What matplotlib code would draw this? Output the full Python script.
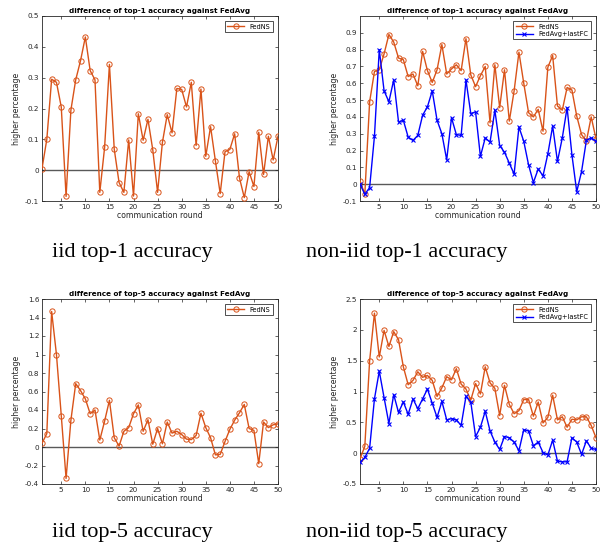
import matplotlib
matplotlib.use('Agg')
import matplotlib.pyplot as plt
import numpy as np

rounds = np.arange(1, 51)

# iid top-1
iid_top1_fedns = [0.005, 0.10, 0.295, 0.285, 0.205, -0.085, 0.195, 0.293, 0.355, 0.432,
                  0.323, 0.293, -0.072, 0.074, 0.343, 0.068, -0.04, -0.072, 0.098, -0.084,
                  0.183, 0.097, 0.165, 0.066, -0.072, 0.090, 0.180, 0.121, 0.265, 0.262,
                  0.205, 0.285, 0.080, 0.263, 0.045, 0.141, 0.030, -0.076, 0.060, 0.067,
                  0.118, -0.025, -0.089, -0.005, -0.053, 0.123, -0.014, 0.110, 0.033, 0.110]

# non-iid top-1
noniid_top1_fedns = [0.02, -0.06, 0.49, 0.67, 0.68, 0.775, 0.89, 0.845, 0.75, 0.74,
                     0.64, 0.655, 0.585, 0.79, 0.675, 0.605, 0.68, 0.83, 0.655, 0.685,
                     0.71, 0.675, 0.865, 0.65, 0.58, 0.645, 0.70, 0.365, 0.71, 0.455,
                     0.68, 0.375, 0.555, 0.785, 0.60, 0.425, 0.40, 0.445, 0.315, 0.695,
                     0.765, 0.465, 0.44, 0.575, 0.56, 0.405, 0.295, 0.255, 0.40, 0.27]
noniid_top1_lastfc = [0.0, -0.06, -0.02, 0.285, 0.80, 0.555, 0.49, 0.62, 0.37, 0.38,
                      0.28, 0.26, 0.29, 0.41, 0.46, 0.555, 0.38, 0.30, 0.145, 0.395,
                      0.295, 0.29, 0.62, 0.42, 0.43, 0.165, 0.275, 0.25, 0.44, 0.23,
                      0.19, 0.125, 0.06, 0.34, 0.255, 0.115, 0.01, 0.09, 0.05, 0.18,
                      0.345, 0.135, 0.275, 0.455, 0.175, -0.045, 0.075, 0.26, 0.275, 0.255]

# iid top-5
iid_top5_fedns = [0.04, 0.145, 1.465, 1.0, 0.34, -0.34, 0.29, 0.685, 0.61, 0.52,
                  0.36, 0.40, 0.075, 0.28, 0.505, 0.10, 0.01, 0.17, 0.21, 0.36,
                  0.455, 0.17, 0.295, 0.03, 0.20, 0.035, 0.27, 0.15, 0.17, 0.135,
                  0.085, 0.08, 0.125, 0.365, 0.21, 0.10, -0.085, -0.08, 0.06, 0.19,
                  0.29, 0.37, 0.46, 0.20, 0.18, -0.18, 0.27, 0.21, 0.24, 0.25]

# non-iid top-5
noniid_top5_fedns = [-0.09, 0.11, 1.50, 2.27, 1.56, 1.99, 1.73, 1.97, 1.84, 1.40,
                     1.11, 1.18, 1.32, 1.23, 1.26, 1.18, 0.92, 1.06, 1.24, 1.19,
                     1.37, 1.12, 1.04, 0.86, 1.13, 0.96, 1.40, 1.14, 1.05, 0.61,
                     1.10, 0.79, 0.64, 0.69, 0.87, 0.87, 0.60, 0.83, 0.49, 0.58,
                     0.94, 0.54, 0.59, 0.42, 0.55, 0.54, 0.59, 0.59, 0.45, 0.25]
noniid_top5_lastfc = [-0.15, -0.07, 0.08, 0.88, 1.33, 0.90, 0.48, 0.95, 0.66, 0.83,
                      0.63, 0.88, 0.72, 0.88, 1.04, 0.81, 0.58, 0.84, 0.54, 0.56,
                      0.54, 0.45, 0.92, 0.83, 0.27, 0.42, 0.68, 0.36, 0.18, 0.06,
                      0.27, 0.25, 0.18, 0.04, 0.38, 0.36, 0.12, 0.18, 0.01, -0.03,
                      0.21, -0.13, -0.14, -0.14, 0.25, 0.18, -0.02, 0.20, 0.08, 0.06]

ORANGE = (0.85, 0.325, 0.098)
BLUE = (0.0, 0.0, 1.0)
GREY = (0.15, 0.15, 0.15)


def draw_panel(ax, title, fedns, lastfc, ylim, yticks):
    ax.axhline(0, color=(0.35, 0.35, 0.35), linewidth=1.0, zorder=1)
    ax.plot(rounds, fedns, '-o', color=ORANGE, linewidth=1.0, markersize=3.8,
            markerfacecolor='none', markeredgewidth=0.7, label='FedNS', zorder=3)
    if lastfc is not None:
        ax.plot(rounds, lastfc, '-x', color=BLUE, linewidth=1.0, markersize=3.0,
                markeredgewidth=0.8, label='FedAvg+lastFC', zorder=3)
    ax.set_xlim(1, 50)
    ax.set_ylim(*ylim)
    ax.set_xticks(np.arange(5, 51, 5))
    ax.set_yticks(yticks)
    ax.set_yticklabels(['%g' % t for t in yticks])
    ax.tick_params(direction='in', length=2.5, width=0.5, labelsize=5.2,
                   colors=GREY, top=True, right=True, pad=2)
    for sp in ax.spines.values():
        sp.set_linewidth(0.6)
        sp.set_color(GREY)
    ax.set_title(title, fontsize=5.2, fontweight='bold', pad=2.5)
    ax.set_xlabel('communication round', fontsize=5.6, color=GREY, labelpad=1)
    ax.set_ylabel('higher percentage', fontsize=5.6, color=GREY, labelpad=3)
    leg = ax.legend(loc='upper right', fontsize=4.8, fancybox=False,
                    borderpad=0.35, handlelength=2.6, labelspacing=0.2,
                    borderaxespad=0.8)
    leg.get_frame().set_edgecolor('black')
    leg.get_frame().set_linewidth(0.6)


fig = plt.figure(figsize=(6.07, 5.48), dpi=100)
W, H = 607, 548


def add_ax(l, r, t, b):
    return fig.add_axes([l / W, 1 - b / H, (r - l) / W, (b - t) / H])


ax1 = add_ax(42, 278, 16, 201)
ax2 = add_ax(360, 596, 16, 201)
ax3 = add_ax(42, 278, 299, 484)
ax4 = add_ax(360, 596, 299, 484)

draw_panel(ax1, 'difference of top-1 accuracy against FedAvg', iid_top1_fedns, None,
           (-0.1, 0.5), [-0.1, 0, 0.1, 0.2, 0.3, 0.4, 0.5])
draw_panel(ax2, 'difference of top-1 accuracy against FedAvg', noniid_top1_fedns,
           noniid_top1_lastfc, (-0.1, 1.0), np.round(np.arange(-0.1, 0.95, 0.1), 1))
draw_panel(ax3, 'difference of top-5 accuracy against FedAvg', iid_top5_fedns, None,
           (-0.4, 1.6), np.round(np.arange(-0.4, 1.65, 0.2), 1))
draw_panel(ax4, 'difference of top-5 accuracy against FedAvg', noniid_top5_fedns,
           noniid_top5_lastfc, (-0.5, 2.5), [-0.5, 0, 0.5, 1, 1.5, 2, 2.5])

captions = [('iid top-1 accuracy', 132, 252), ('non-iid top-1 accuracy', 407, 252),
            ('iid top-5 accuracy', 132, 532), ('non-iid top-5 accuracy', 407, 532)]
for txt, x, y in captions:
    fig.text(x / W, 1 - y / H, txt, ha='center', va='center', fontsize=16,
             family='Liberation Serif')

fig.savefig('out.png', dpi=100)
